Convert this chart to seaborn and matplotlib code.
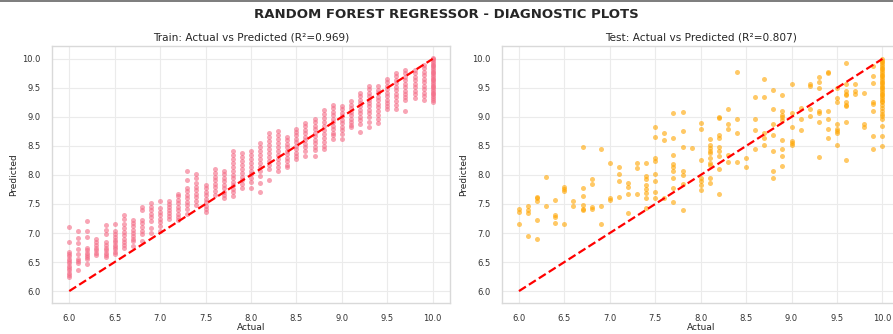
import numpy as np
import pandas as pd
import matplotlib
matplotlib.use("Agg")
import matplotlib.pyplot as plt
import seaborn as sns

# ---------------- data ----------------
train_actual = [6.0, 6.1, 6.2, 6.3, 6.4, 6.5, 6.6, 6.7, 6.8, 6.9,
                7.0, 7.1, 7.2, 7.3, 7.4, 7.5, 7.6, 7.7, 7.8, 7.9,
                8.0, 8.1, 8.2, 8.3, 8.4, 8.5, 8.6, 8.7, 8.8, 8.9,
                9.0, 9.1, 9.2, 9.3, 9.4, 9.5, 9.6, 9.7, 9.8, 9.9, 10.0]
train_pred = [
    [7.10, 6.84, 6.68, 6.64, 6.60, 6.56, 6.52, 6.48, 6.44, 6.40, 6.36, 6.32, 6.28, 6.25],
    [7.03, 6.92, 6.82, 6.73, 6.64, 6.55, 6.52, 6.48, 6.36],
    [7.20, 7.03, 6.93, 6.75, 6.70, 6.66, 6.62, 6.58, 6.55, 6.46],
    [6.90, 6.85, 6.80, 6.75, 6.70, 6.66, 6.62],
    [7.14, 7.06, 6.98, 6.84, 6.79, 6.74, 6.70, 6.66, 6.62, 6.58],
    [7.15, 7.03, 6.98, 6.93, 6.88, 6.84, 6.80, 6.76, 6.72, 6.68, 6.64],
    [7.31, 7.25, 7.15, 7.08, 7.02, 6.96, 6.90, 6.85, 6.80, 6.75],
    [7.23, 7.18, 7.12, 7.06, 7.00, 6.95, 6.90, 6.86, 6.78],
    [7.44, 7.40, 7.23, 7.17, 7.10, 7.04, 6.98, 6.86],
    [7.51, 7.45, 7.39, 7.33, 7.27, 7.21, 7.09, 7.00],
    [7.55, 7.43, 7.37, 7.31, 7.25, 7.19, 7.12, 7.03],
    [7.56, 7.50, 7.45, 7.40, 7.35, 7.30, 7.25],
    [7.68, 7.63, 7.57, 7.51, 7.45, 7.39, 7.33, 7.28, 7.23],
    [8.07, 7.91, 7.77, 7.72, 7.66, 7.60, 7.54, 7.48, 7.42, 7.32],
    [8.02, 7.95, 7.86, 7.80, 7.74, 7.68, 7.62, 7.56, 7.49],
    [7.83, 7.77, 7.71, 7.65, 7.59, 7.53, 7.47, 7.41, 7.37],
    [8.10, 8.03, 7.97, 7.91, 7.85, 7.79, 7.73, 7.66],
    [8.07, 8.01, 7.95, 7.89, 7.83, 7.77, 7.71, 7.65, 7.60],
    [8.41, 8.34, 8.27, 8.20, 8.13, 8.06, 8.00, 7.94, 7.88, 7.82, 7.76, 7.70, 7.64],
    [8.38, 8.31, 8.24, 8.17, 8.10, 8.03, 7.97, 7.91, 7.85, 7.77],
    [8.41, 8.35, 8.28, 8.21, 8.14, 8.07, 8.01, 7.95, 7.88, 7.77],
    [8.55, 8.48, 8.41, 8.34, 8.27, 8.20, 8.13, 8.06, 7.99, 7.86, 7.71],
    [8.73, 8.66, 8.59, 8.52, 8.45, 8.38, 8.31, 8.24, 8.17, 8.10, 7.91],
    [8.75, 8.69, 8.62, 8.55, 8.48, 8.41, 8.34, 8.27, 8.20, 8.13, 8.07],
    [8.66, 8.60, 8.54, 8.48, 8.42, 8.36, 8.30, 8.24, 8.18, 8.13],
    [8.80, 8.74, 8.68, 8.62, 8.56, 8.50, 8.44, 8.38, 8.32, 8.27],
    [8.90, 8.84, 8.78, 8.72, 8.66, 8.60, 8.54, 8.48, 8.42, 8.33],
    [8.97, 8.91, 8.85, 8.79, 8.73, 8.67, 8.61, 8.55, 8.49, 8.43, 8.33],
    [9.12, 9.05, 8.98, 8.91, 8.84, 8.77, 8.70, 8.63, 8.56, 8.50, 8.45],
    [9.21, 9.15, 9.09, 9.03, 8.97, 8.91, 8.85, 8.79, 8.73, 8.68, 8.62],
    [9.19, 9.13, 9.07, 9.01, 8.95, 8.89, 8.83, 8.77, 8.71, 8.62],
    [9.27, 9.21, 9.15, 9.09, 9.03, 8.97, 8.91, 8.86, 8.82],
    [9.42, 9.36, 9.30, 9.24, 9.18, 9.12, 9.06, 9.00, 8.94, 8.88, 8.74],
    [9.54, 9.48, 9.42, 9.36, 9.30, 9.24, 9.18, 9.12, 9.06, 9.00, 8.92, 8.82],
    [9.53, 9.47, 9.41, 9.35, 9.29, 9.23, 9.17, 9.11, 9.04, 8.96, 8.90],
    [9.66, 9.60, 9.54, 9.48, 9.42, 9.36, 9.30, 9.24, 9.18, 9.13],
    [9.76, 9.70, 9.64, 9.58, 9.52, 9.46, 9.40, 9.34, 9.28, 9.20, 9.13],
    [9.81, 9.75, 9.69, 9.63, 9.57, 9.51, 9.45, 9.39, 9.34, 9.30, 9.11],
    [9.81, 9.75, 9.69, 9.63, 9.57, 9.51, 9.45, 9.39, 9.33],
    [9.90, 9.84, 9.78, 9.72, 9.66, 9.60, 9.54, 9.48, 9.42, 9.36, 9.30],
    [10.02, 9.99, 9.96, 9.93, 9.90, 9.87, 9.84, 9.81, 9.78, 9.75, 9.72, 9.69, 9.66,
     9.63, 9.60, 9.57, 9.54, 9.51, 9.48, 9.45, 9.42, 9.39, 9.36, 9.33, 9.30, 9.25],
]

test_actual = train_actual
test_pred = [
    [7.41, 7.37, 7.16],
    [7.47, 7.40, 7.34, 6.95],
    [7.62, 7.60, 7.55, 7.22, 6.90],
    [7.97, 7.46],
    [7.57, 7.31, 7.28, 7.17],
    [7.80, 7.75, 7.73, 7.15],
    [7.56, 7.47],
    [8.48, 7.77, 7.64, 7.48, 7.42, 7.39],
    [7.93, 7.85, 7.45, 7.42],
    [8.44, 7.47, 7.15],
    [8.20, 7.60, 7.57],
    [8.14, 8.02, 7.89, 7.62],
    [7.86, 7.80, 7.67, 7.34],
    [8.20, 8.12, 7.68],
    [8.20, 7.99, 7.93, 7.83, 7.75, 7.69, 7.60, 7.43],
    [8.83, 8.65, 8.29, 8.24, 8.02, 7.90, 7.70, 7.60],
    [8.72, 8.60, 7.60],
    [9.07, 8.63, 8.35, 8.19, 8.14, 8.06, 7.94, 7.77, 7.53],
    [9.08, 8.75, 8.48, 8.07, 8.00, 7.85, 7.40],
    [8.46],
    [8.89, 8.80, 8.25, 7.94, 7.89, 7.83, 7.74],
    [8.62, 8.52, 8.47, 8.42, 8.38, 8.29, 8.20, 8.17, 7.94, 7.86],
    [9.00, 8.98, 8.68, 8.63, 8.48, 8.41, 8.33, 8.10, 7.68],
    [9.14, 8.88, 8.79, 8.34, 8.23],
    [9.77, 8.97, 8.72, 8.23],
    [8.29, 8.14],
    [9.34, 8.97, 8.78, 8.45],
    [9.66, 9.34, 8.72, 8.64, 8.52],
    [9.46, 9.13, 8.88, 8.69, 8.41, 8.07, 7.95],
    [9.38, 9.10, 9.03, 8.99, 8.95, 8.61, 8.45, 8.33, 8.15],
    [9.57, 9.06, 8.82, 8.58, 8.55, 8.51],
    [9.15, 8.96, 8.78],
    [9.56, 9.54, 9.13, 9.01],
    [9.69, 9.60, 9.50, 9.10, 9.06, 8.92, 8.31],
    [9.77, 9.76, 9.10, 8.97, 8.79, 8.64],
    [9.50, 9.33, 9.26, 8.88, 8.79, 8.75, 8.72, 8.52],
    [9.93, 9.57, 9.44, 9.40, 9.38, 9.25, 9.21, 9.18, 8.91, 8.25],
    [9.57, 9.44, 9.40],
    [9.42, 8.88, 8.82],
    [9.88, 9.70, 9.59, 9.26, 9.22, 9.10, 8.67, 8.45],
    [10.00, 9.97, 9.94, 9.91, 9.88, 9.85, 9.82, 9.79, 9.76, 9.73, 9.70, 9.67, 9.64,
     9.61, 9.58, 9.55, 9.52, 9.49, 9.46, 9.43, 9.40, 9.37, 9.34, 9.31, 9.28, 9.25,
     9.20, 9.16, 9.10, 9.05, 9.01, 8.96, 8.84, 8.67, 8.50],
]

titles = ["Train: Actual vs Predicted (R\u00b2=0.969)",
          "Test: Actual vs Predicted (R\u00b2=0.807)"]
suptitle = "RANDOM FOREST REGRESSOR - DIAGNOSTIC PLOTS"


def to_frame(levels, groups):
    rows = [(a, p) for a, g in zip(levels, groups) for p in g]
    return pd.DataFrame(rows, columns=["Actual", "Predicted"])


train_df = to_frame(train_actual, train_pred)
test_df = to_frame(test_actual, test_pred)

# ---------------- styling ----------------
sns.set_theme(style="whitegrid")
plt.rcParams["font.family"] = ["DejaVu Sans"]
plt.rcParams.update({
    "grid.color": "#ebebeb",
    "axes.edgecolor": "#d9d9d9",
    "axes.linewidth": 1.0,
    "xtick.color": "#333333",
    "ytick.color": "#333333",
    "text.color": "#262626",
    "axes.labelcolor": "#262626",
})

fig = plt.figure(figsize=(8.93, 3.34), dpi=100)
ax1 = fig.add_axes([0.0582, 0.092, 0.4457, 0.770])
ax2 = fig.add_axes([0.5618, 0.092, 0.4457, 0.770])

for ax, df, color, title in [(ax1, train_df, "#f46a85", titles[0]),
                             (ax2, test_df, "#ffa500", titles[1])]:
    sns.scatterplot(data=df, x="Actual", y="Predicted", ax=ax, color=color,
                    alpha=0.6, s=13, linewidth=0)
    lo, hi = df["Actual"].min(), df["Actual"].max()
    ax.plot([lo, hi], [lo, hi], linestyle="--", color="#ff0000", lw=1.6)
    ax.set_xlim(5.81, 10.19)
    ax.set_ylim(5.79, 10.22)
    ax.set_xticks([6.0, 6.5, 7.0, 7.5, 8.0, 8.5, 9.0, 9.5, 10.0])
    ax.set_yticks([6.0, 6.5, 7.0, 7.5, 8.0, 8.5, 9.0, 9.5, 10.0])
    ax.tick_params(labelsize=6, pad=2)
    ax.tick_params(axis="x", pad=1.5)
    ax.set_title(title, fontsize=7.6, pad=4)
    ax.set_xlabel("Actual", fontsize=6.5, labelpad=0)
    ax.set_ylabel("Predicted", fontsize=6.5, labelpad=3)
    ax.grid(True, lw=0.8)

fig.suptitle(suptitle, fontsize=9.5, fontweight="bold", y=0.975)
fig.add_artist(plt.Line2D([0, 1], [0.997, 0.997], transform=fig.transFigure,
                          color="#666666", lw=1.2))

fig.savefig("out.png", dpi=100)
